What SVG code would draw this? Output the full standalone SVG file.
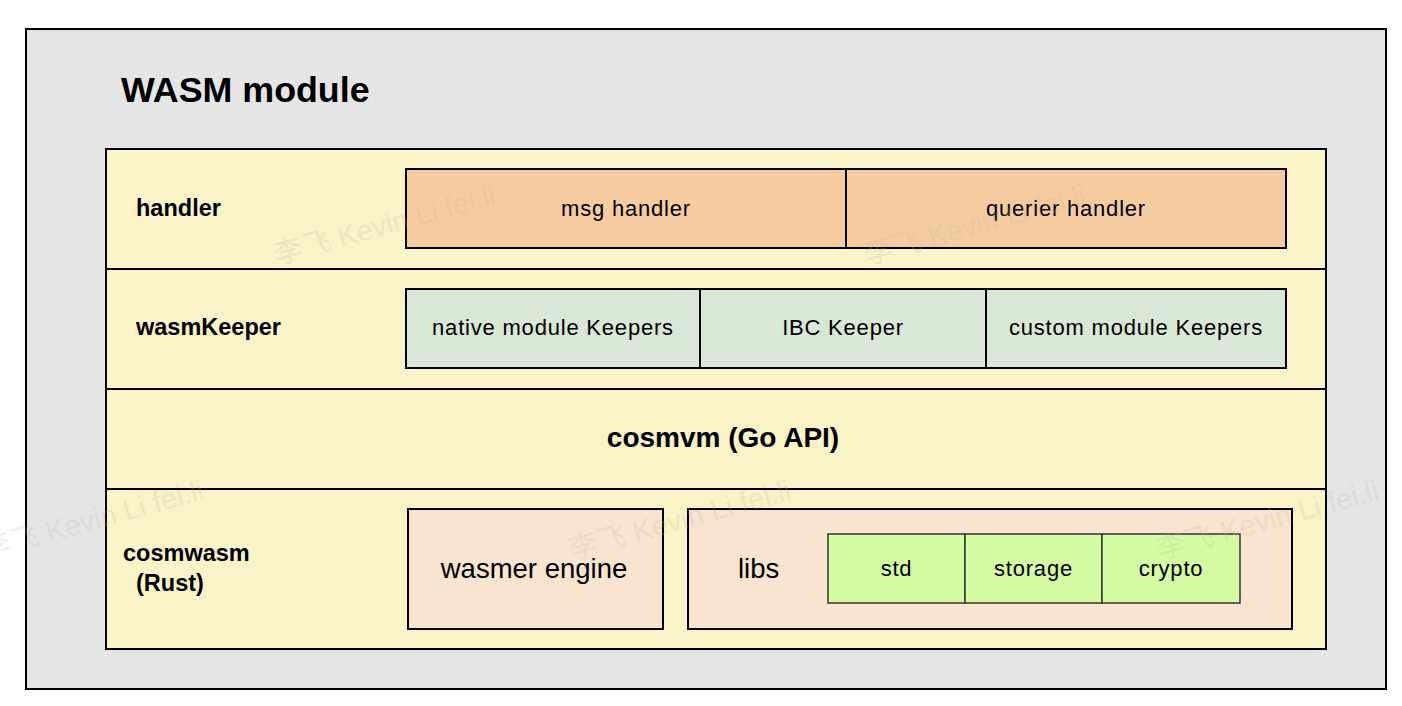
<svg xmlns="http://www.w3.org/2000/svg" width="1402" height="706" viewBox="0 0 1402 706">
<style>
.box{stroke:#000;stroke-width:2}
.lib{fill:#d5fba3;stroke:#333;stroke-width:1.5}
.div{stroke:#000;stroke-width:2}
.t{font-family:"Liberation Sans",Arial,Helvetica,sans-serif;fill:#000}
.n{font-size:22px;letter-spacing:0.8px;text-anchor:middle}
.b{font-size:23.5px;font-weight:bold}
.big{font-size:27.5px}
.wm{font-family:"Liberation Sans","Noto Sans CJK SC",sans-serif;font-size:29px;fill:#bdb8a8;opacity:0.22}
</style>
<rect x="0" y="0" width="1402" height="706" fill="#ffffff"/>
<g id="wasm-module">
<rect class="box" x="26" y="29" width="1360" height="660" fill="#e5e5e5"/>
<text class="t" x="121" y="102" font-size="35.8" font-weight="bold">WASM module</text>
</g>
<g id="layers">
<rect class="box" x="106" y="149" width="1220" height="500" fill="#fbf3c8"/>
<line class="div" x1="106" y1="269" x2="1326" y2="269"/>
<line class="div" x1="106" y1="389" x2="1326" y2="389"/>
<line class="div" x1="106" y1="489" x2="1326" y2="489"/>
</g>
<g id="handler">
<text class="t b" x="136" y="216">handler</text>
</g>
<g id="msg-handler">
<rect class="box" x="406" y="169" width="440" height="79" fill="#f5cca0"/>
<text class="t n" x="626" y="216">msg handler</text>
</g>
<g id="querier-handler">
<rect class="box" x="846" y="169" width="440" height="79" fill="#f5cca0"/>
<text class="t n" x="1066" y="216">querier handler</text>
</g>
<g id="wasmKeeper">
<text class="t b" x="136" y="335">wasmKeeper</text>
</g>
<g id="native-keepers">
<rect class="box" x="406" y="289" width="294" height="79" fill="#d9e7d6"/>
<text class="t n" x="553" y="335">native module Keepers</text>
</g>
<g id="ibc-keeper">
<rect class="box" x="700" y="289" width="286" height="79" fill="#d9e7d6"/>
<text class="t n" x="843" y="335">IBC Keeper</text>
</g>
<g id="custom-keepers">
<rect class="box" x="986" y="289" width="300" height="79" fill="#d9e7d6"/>
<text class="t n" x="1136" y="335">custom module Keepers</text>
</g>
<g id="cosmvm">
<text class="t" x="723" y="447" font-size="28" font-weight="bold" text-anchor="middle">cosmvm (Go API)</text>
</g>
<g id="cosmwasm">
<text class="t b" x="123" y="561">cosmwasm</text>
<text class="t b" x="136" y="591">(Rust)</text>
</g>
<g id="wasmer-engine">
<rect class="box" x="408" y="509" width="255" height="120" fill="#f9e4cf"/>
<text class="t big" x="534" y="578" text-anchor="middle">wasmer engine</text>
</g>
<g id="libs">
<rect class="box" x="688" y="509" width="604" height="120" fill="#f9e4cf"/>
<text class="t big" x="738" y="578">libs</text>
</g>
<g id="std">
<rect class="lib" x="828" y="534" width="137" height="69"/>
<text class="t n" x="896.5" y="576">std</text>
</g>
<g id="storage">
<rect class="lib" x="965" y="534" width="137" height="69"/>
<text class="t n" x="1033.5" y="576">storage</text>
</g>
<g id="crypto">
<rect class="lib" x="1102" y="534" width="138" height="69"/>
<text class="t n" x="1171" y="576">crypto</text>
</g>
<g id="connectors"></g>
<g id="watermark">
<text class="wm" transform="translate(277,265) rotate(-15.5)">李飞 Kevin Li fei.li</text>
<text class="wm" transform="translate(867,265) rotate(-15.5)">李飞 Kevin Li fei.li</text>
<text class="wm" transform="translate(-15,560) rotate(-15.5)">李飞 Kevin Li fei.li</text>
<text class="wm" transform="translate(572,560) rotate(-15.5)">李飞 Kevin Li fei.li</text>
<text class="wm" transform="translate(1160,560) rotate(-15.5)">李飞 Kevin Li fei.li</text>
</g>
</svg>
